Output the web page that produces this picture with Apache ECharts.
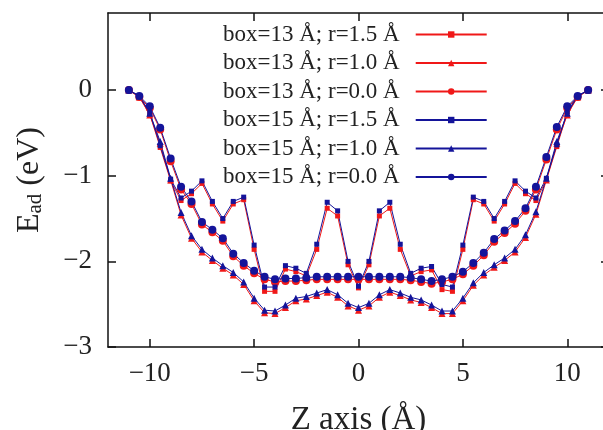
<!DOCTYPE html>
<html>
<head>
    <meta charset="utf-8">
    <title>Ead</title>
    <script src="https://cdn.jsdelivr.net/npm/echarts@6/dist/echarts.min.js"></script>
    <style>
        html, body { margin: 0; padding: 0; background: #fff; }
    </style>
</head>
<body>

<div id="main" style="width: 603px;height:430px;"></div>

<script type="text/javascript">
    // Z positions (Å)
    var zPos = [-11, -10.5, -10, -9.5, -9, -8.5, -8, -7.5, -7, -6.5, -6, -5.5, -5, -4.5, -4, -3.5, -3, -2.5, -2, -1.5, -1, -0.5,
        0,
        0.5, 1, 1.5, 2, 2.5, 3, 3.5, 4, 4.5, 5, 5.5, 6, 6.5, 7, 7.5, 8, 8.5, 9, 9.5, 10, 10.5, 11];

    // box=13 Å (red)
    var b13r15 = [0, -0.08, -0.28, -0.67, -1.06, -1.29, -1.21, -1.09, -1.33, -1.53, -1.33, -1.28, -1.86, -2.35, -2.35, -2.09, -2.12, -2.17, -1.86, -1.38, -1.47, -2.04,
        -2.31,
        -2.04, -1.47, -1.38, -1.86, -2.17, -2.12, -2.10, -2.33, -2.35, -1.86, -1.28, -1.33, -1.53, -1.33, -1.09, -1.21, -1.29, -1.05, -0.66, -0.27, -0.08, 0];
    var b13r10 = [0, -0.08, -0.29, -0.62, -1.05, -1.46, -1.73, -1.89, -1.99, -2.08, -2.16, -2.27, -2.46, -2.60, -2.61, -2.54, -2.46, -2.44, -2.40, -2.36, -2.42, -2.52,
        -2.57,
        -2.52, -2.42, -2.36, -2.40, -2.45, -2.48, -2.54, -2.61, -2.61, -2.46, -2.28, -2.16, -2.07, -1.99, -1.89, -1.72, -1.45, -1.05, -0.62, -0.29, -0.08, 0];
    var b13r00 = [0, -0.08, -0.21, -0.46, -0.83, -1.16, -1.33, -1.57, -1.66, -1.76, -1.94, -2.05, -2.14, -2.21, -2.24, -2.23, -2.23, -2.22, -2.21, -2.21, -2.21, -2.21,
        -2.21,
        -2.21, -2.21, -2.21, -2.21, -2.22, -2.24, -2.26, -2.24, -2.21, -2.15, -2.05, -1.93, -1.77, -1.67, -1.56, -1.41, -1.16, -0.81, -0.46, -0.21, -0.08, 0];

    // box=15 Å (blue)
    var b15r15 = [0, -0.07, -0.26, -0.65, -1.04, -1.26, -1.18, -1.06, -1.30, -1.50, -1.30, -1.25, -1.81, -2.30, -2.30, -2.05, -2.08, -2.14, -1.80, -1.31, -1.41, -2.00,
        -2.29,
        -2.00, -1.41, -1.31, -1.80, -2.14, -2.08, -2.06, -2.27, -2.30, -1.81, -1.25, -1.30, -1.50, -1.30, -1.06, -1.18, -1.26, -1.03, -0.64, -0.25, -0.07, 0];
    var b15r10 = [0, -0.07, -0.27, -0.60, -1.03, -1.43, -1.70, -1.86, -1.96, -2.05, -2.13, -2.24, -2.43, -2.57, -2.58, -2.51, -2.43, -2.41, -2.37, -2.33, -2.39, -2.49,
        -2.54,
        -2.49, -2.39, -2.33, -2.37, -2.42, -2.45, -2.51, -2.58, -2.58, -2.43, -2.25, -2.13, -2.04, -1.96, -1.86, -1.69, -1.42, -1.03, -0.60, -0.27, -0.07, 0];
    var b15r00 = [0, -0.07, -0.19, -0.44, -0.80, -1.13, -1.30, -1.54, -1.63, -1.73, -1.91, -2.02, -2.11, -2.18, -2.21, -2.20, -2.20, -2.19, -2.18, -2.18, -2.18, -2.18,
        -2.18,
        -2.18, -2.18, -2.18, -2.18, -2.19, -2.21, -2.23, -2.21, -2.18, -2.12, -2.02, -1.90, -1.74, -1.64, -1.53, -1.38, -1.13, -0.78, -0.43, -0.19, -0.07, 0];

    var xTicks = [-10, -5, 0, 5, 10];
    var yTicks = [-3, -2, -1, 0];

    var RED = '#f01818';
    var BLUE = '#14149a';
    var FONT = '"Liberation Serif", "DejaVu Serif", serif';

    function pairs(vals) {
        var out = [];
        for (var i = 0; i < zPos.length; i++) {
            out.push([zPos[i], vals[i]]);
        }
        return out;
    }

    function minus(v) {
        return String(v).replace('-', '\u2212');
    }

    function mkSeries(name, vals, color, symbol, size) {
        return {
            name: name,
            type: 'line',
            data: pairs(vals),
            symbol: symbol,
            symbolSize: size,
            showAllSymbol: true,
            lineStyle: { color: color, width: 1 },
            itemStyle: { color: color },
            emphasis: { disabled: true },
            animation: false
        };
    }

    var myChart = echarts.init(document.getElementById('main'));

    var axisLine = { show: true, onZero: false, lineStyle: { color: '#111', width: 1.5 } };

    function ticks(vals) {
        return { show: true, inside: true, length: 8, lineStyle: { color: '#111', width: 1.5 }, customValues: vals };
    }

    option = {
        backgroundColor: '#fff',
        animation: false,
        grid: { left: 108, right: -6, top: 13, bottom: 83, outerBoundsMode: 'none', containLabel: false },
        legend: {
            orient: 'vertical',
            left: 223,
            top: 23,
            padding: 0,
            align: 'right',
            itemWidth: 71,
            itemHeight: 8,
            itemGap: 5.5,
            textStyle: {
                fontFamily: FONT,
                fontSize: 23,
                color: '#222',
                lineHeight: 23,
                padding: [0, 11, 0, 0]
            },
            data: [
                'box=13 Å; r=1.5 Å', 'box=13 Å; r=1.0 Å', 'box=13 Å; r=0.0 Å',
                'box=15 Å; r=1.5 Å', 'box=15 Å; r=1.0 Å', 'box=15 Å; r=0.0 Å'
            ]
        },
        xAxis: [{
            type: 'value',
            min: -12,
            max: 12,
            name: 'Z axis (Å)',
            nameLocation: 'middle',
            nameGap: 57,
            nameTextStyle: { fontFamily: FONT, fontSize: 33, color: '#222' },
            axisLine: axisLine,
            axisTick: ticks(xTicks),
            axisLabel: { customValues: xTicks, margin: 13, fontFamily: FONT, fontSize: 27, color: '#222', formatter: minus },
            splitLine: { show: false }
        }, {
            type: 'value',
            position: 'top',
            min: -12,
            max: 12,
            axisLine: axisLine,
            axisTick: ticks(xTicks),
            axisLabel: { show: false },
            splitLine: { show: false }
        }],
        yAxis: [{
            type: 'value',
            min: -3,
            max: 0.9,
            name: '{a|E}{b|ad}{a| (eV)}',
            nameLocation: 'middle',
            nameRotate: 90,
            nameGap: 62,
            nameTextStyle: {
                rich: {
                    a: { fontFamily: FONT, fontSize: 32, color: '#222', lineHeight: 32 },
                    b: { fontFamily: FONT, fontSize: 21, color: '#222', lineHeight: 15, verticalAlign: 'bottom' }
                }
            },
            axisLine: axisLine,
            axisTick: ticks(yTicks),
            axisLabel: { customValues: yTicks, margin: 16, fontFamily: FONT, fontSize: 27, color: '#222', formatter: minus },
            splitLine: { show: false }
        }, {
            type: 'value',
            position: 'right',
            min: -3,
            max: 0.9,
            axisLine: axisLine,
            axisTick: ticks(yTicks),
            axisLabel: { show: false },
            splitLine: { show: false }
        }],
        series: [
            mkSeries('box=13 Å; r=1.5 Å', b13r15, RED, 'rect', 5),
            mkSeries('box=13 Å; r=1.0 Å', b13r10, RED, 'triangle', 7),
            mkSeries('box=13 Å; r=0.0 Å', b13r00, RED, 'circle', 8),
            mkSeries('box=15 Å; r=1.5 Å', b15r15, BLUE, 'rect', 5),
            mkSeries('box=15 Å; r=1.0 Å', b15r10, BLUE, 'triangle', 7),
            mkSeries('box=15 Å; r=0.0 Å', b15r00, BLUE, 'circle', 8)
        ]
    };

    myChart.setOption(option);
</script>
</body>
</html>
